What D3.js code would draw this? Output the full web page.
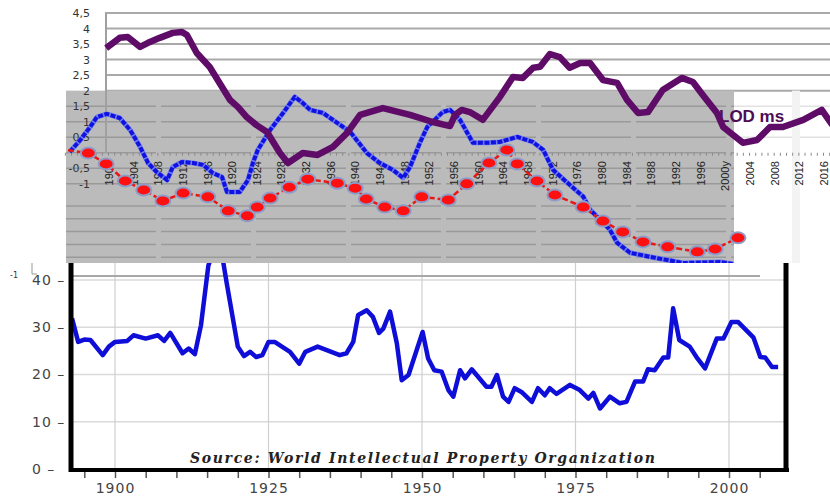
<!DOCTYPE html>
<html>
<head>
<meta charset="utf-8">
<script src="https://d3js.org/d3.v7.min.js"></script>
<style>
  body { margin: 0; background: #fff; }
  svg { display: block; }
  .ytop text { font: 11px "DejaVu Sans", sans-serif; fill: #333; }
  .xtop text { font: 11px "Liberation Sans", Arial, sans-serif; fill: #222; }
  .ybot text, .xbot text { font: 14px "DejaVu Sans", sans-serif; fill: #444; letter-spacing: 1px; }
</style>
</head>
<body>
<script>
// ---- top chart (LOD ms collage) ----
var lodYears = [1899.7,1901.9,1903.2,1905.2,1906.5,1908.4,1910.5,1912,1912.8,1914.4,1916.5,1918.5,1919.8,1921.1,1922.5,1924.1,1925.8,1927.9,1929.2,1931.6,1934,1936.5,1938.8,1940.9,1944.6,1949,1952.7,1955.5,1956.3,1957.4,1958.7,1960.8,1963.6,1965.7,1967.3,1969,1970.1,1971.7,1973.3,1974.9,1976.6,1978.2,1980.3,1982.6,1984.2,1986,1987.6,1990,1993.1,1994.9,1996.5,1998.8,1999.8,2003,2005.3,2007.4,2009.5,2012.8,2015.8,2017.5];
var lodValues = [3.37,3.70,3.73,3.41,3.54,3.70,3.86,3.89,3.79,3.21,2.76,2.12,1.70,1.47,1.15,0.89,0.67,-0.01,-0.33,-0.01,-0.07,0.19,0.64,1.22,1.44,1.22,0.99,0.86,1.22,1.38,1.31,1.06,1.80,2.44,2.41,2.74,2.77,3.18,3.08,2.74,2.89,2.89,2.34,2.25,1.70,1.28,1.31,2.02,2.41,2.28,1.86,1.28,0.83,0.32,0.41,0.83,0.83,1.06,1.38,0.90];

var blueYears = [1893.8,1895.5,1897.1,1898.2,1899.8,1901.9,1903.6,1905.2,1906.5,1907.9,1909.6,1910.5,1912,1913.8,1915.4,1917,1918.5,1919.3,1921.4,1922.7,1923.5,1924.3,1926.3,1928.4,1930.3,1931.6,1932.8,1934.9,1937.2,1939.3,1942,1944.1,1946.2,1947.9,1949,1950.6,1951.8,1954.3,1955.5,1957.1,1959.2,1961.5,1963.6,1966.4,1968.9,1970.6,1972.2,1974.5,1977.1,1978.2,1981.4,1982.6,1984.7,1987.9,1993.3,1999.3,2001.4];
var blueValues = [0.03,0.41,0.83,1.15,1.25,1.12,0.73,0.19,-0.33,-0.62,-0.88,-0.46,-0.30,-0.33,-0.39,-0.65,-0.78,-1.26,-1.26,-0.88,-0.33,0.09,0.73,1.28,1.80,1.60,1.38,1.28,0.96,0.67,-0.01,-0.33,-0.55,-0.81,-0.46,0.32,0.83,1.31,1.38,1.06,0.32,0.32,0.35,0.51,0.35,0.09,-0.55,-0.96,-1.41,-1.83,-2.47,-2.90,-3.22,-3.35,-3.55,-3.52,-3.58];

var redYears = [1893.5,1896.8,1899.7,1902.8,1905.8,1908.9,1912.2,1916.2,1919.5,1922.6,1924.2,1926.3,1929.4,1932.4,1937.2,1940.1,1941.9,1944.9,1947.9,1950.9,1955.2,1958.2,1961.8,1964.7,1966.4,1969.6,1972.5,1977.1,1980.3,1983.5,1986.8,1990.8,1995.6,1998.5,2002.2];
var redValues = [0.08,-0.01,-0.36,-0.91,-1.20,-1.55,-1.30,-1.42,-1.87,-2.03,-1.75,-1.46,-1.11,-0.85,-0.98,-1.14,-1.49,-1.75,-1.87,-1.42,-1.52,-1.00,-0.33,0.09,-0.36,-0.91,-1.36,-1.75,-2.20,-2.55,-2.87,-3.03,-3.19,-3.10,-2.74];

var topYTicks = [4.5,4,3.5,3,2.5,2,1.5,1,0.5,0,-0.5,-1];
var topXLabels = d3.range(1900, 2017, 4);

// ---- bottom chart (patents, WIPO) ----
var patentYears = [1893,1894,1895,1896,1898,1899,1900,1902,1903,1905,1907,1908,1909,1911,1912,1913,1914,1915.2,1916.5,1917.6,1918.2,1920,1921,1922,1923,1924,1925,1926,1928.5,1930,1931,1933,1936.6,1937.7,1938.8,1939.6,1941,1942,1943,1943.7,1944.8,1945.9,1946.7,1947.8,1950.1,1951,1952,1953.2,1954.3,1955.1,1956.2,1957,1958.1,1960.5,1961.3,1962.2,1963.2,1964.1,1965.1,1966.2,1967.9,1968.9,1970,1970.8,1971.9,1974.1,1975.7,1977.1,1977.9,1979,1980.6,1982.2,1983.3,1984.7,1986,1986.8,1987.9,1989.3,1990.1,1990.9,1991.9,1993.6,1994.7,1996.1,1998,1999.1,2000.4,2001.5,2004,2005.1,2005.9,2007,2008];
var patentValues = [31.9,26.9,27.4,27.3,24.1,25.9,26.9,27.1,28.3,27.6,28.3,27.1,28.8,24.5,25.5,24.3,30.4,43,48,44,39.3,25.9,23.9,24.8,23.7,24.1,26.9,26.9,24.8,22.3,24.8,25.9,24.1,24.5,26.9,32.6,33.6,32.2,28.8,29.7,33.3,26.6,18.8,19.9,29,23.4,20.9,20.6,16.7,15.3,20.9,19.2,21.1,17.4,17.4,19.9,15.3,14.2,17.1,16.3,14.2,17.1,15.6,17.1,15.9,17.8,16.7,14.9,16.1,12.8,15.3,13.9,14.2,18.5,18.5,21.1,20.9,23.6,23.6,34.0,27.3,25.9,23.7,21.3,27.6,27.6,31.1,31.1,27.8,23.7,23.6,21.6,21.6];
var botYTicks = [0,10,20,30,40];
var botXTicks = [1900,1925,1950,1975,2000];

var width = 830, height = 496;

var svg = d3.select("body").append("svg")
  .attr("width", width)
  .attr("height", height);

svg.append("rect").attr("width", width).attr("height", height).attr("fill", "#fff");

var xTop = d3.scaleLinear().domain([1900, 2016]).range([108, 823]);
var yTop = d3.scaleLinear().domain([4.5, -3.55]).range([13, 263]);

// gridlines of the white upper part
svg.selectAll(".gridw")
  .data([4.5, 4, 3.5, 3, 2.5, 2])
  .enter().append("line")
  .attr("x1", 105).attr("x2", width)
  .attr("y1", function(d) { return yTop(d); })
  .attr("y2", function(d) { return yTop(d); })
  .attr("stroke", "#a9a9a9")
  .attr("stroke-width", 2);

// grey panel
svg.append("rect")
  .attr("x", 66).attr("y", yTop(2))
  .attr("width", 734 - 66).attr("height", 263 - yTop(2))
  .attr("fill", "#bbbbbb");

var greyLines = [1.5, 1, 0.5, 0, -0.5, -1].map(yTop).concat(d3.range(206, 262, 12.8));
svg.selectAll(".gridg")
  .data(greyLines)
  .enter().append("line")
  .attr("x1", 66).attr("x2", 734)
  .attr("y1", function(d) { return d; })
  .attr("y2", function(d) { return d; })
  .attr("stroke", "#9a9a9a")
  .attr("stroke-width", 1.5)
  .attr("stroke-dasharray", "90 5");

// faint lines on the white right part
svg.selectAll(".gridr")
  .data([1.5, 0.5])
  .enter().append("line")
  .attr("x1", 734).attr("x2", width)
  .attr("y1", function(d) { return yTop(d); })
  .attr("y2", function(d) { return yTop(d); })
  .attr("stroke", "#e2e2e2")
  .attr("stroke-width", 1.5);

svg.append("rect")
  .attr("x", 792).attr("y", yTop(2))
  .attr("width", 8).attr("height", 263 - yTop(2))
  .attr("fill", "#f3f3f3");

// vertical axis line
svg.append("line")
  .attr("x1", 106).attr("x2", 106)
  .attr("y1", yTop(4.5)).attr("y2", yTop(0))
  .attr("stroke", "#a0a0a0")
  .attr("stroke-width", 2);

// year ticks
var tickAx = svg.append("g")
  .attr("transform", "translate(0," + yTop(0) + ")")
  .call(d3.axisBottom(xTop).tickValues(d3.range(1893, 2018)).tickSize(3).tickFormat(""));
tickAx.select(".domain").remove();
tickAx.selectAll("line").attr("stroke", "#8a8a8a");

// y labels
var yAx = svg.append("g")
  .attr("class", "ytop")
  .attr("transform", "translate(90,0)")
  .call(d3.axisLeft(yTop).tickValues(topYTicks).tickSize(0).tickPadding(0)
    .tickFormat(function(d) { return String(d).replace(".", ","); }));
yAx.select(".domain").remove();

// rotated x labels
var xAx = svg.append("g")
  .attr("class", "xtop")
  .attr("transform", "translate(0,161)")
  .call(d3.axisBottom(xTop).tickValues(topXLabels).tickSize(0)
    .tickFormat(function(d) { return d === 2000 ? "2000y" : String(d); }));
xAx.select(".domain").remove();
xAx.selectAll("text")
  .attr("x", 0).attr("y", 0).attr("dy", "0.4em")
  .attr("transform", "rotate(-90)")
  .style("text-anchor", "end");

svg.append("text")
  .attr("x", 719).attr("y", 122)
  .attr("font-family", "Liberation Sans, Arial, sans-serif")
  .attr("font-weight", "bold")
  .attr("font-size", 17)
  .attr("fill", "#4d0c55")
  .text("LOD ms");

var lineTop = d3.line()
  .x(function(d) { return xTop(d[0]); })
  .y(function(d) { return yTop(d[1]); });

var blueData = d3.zip(blueYears, blueValues);
svg.append("path")
  .attr("d", lineTop(blueData))
  .attr("fill", "none")
  .attr("stroke", "#6f7ef2")
  .attr("stroke-width", 5)
  .attr("stroke-linejoin", "round");
svg.append("path")
  .attr("d", lineTop(blueData))
  .attr("fill", "none")
  .attr("stroke", "#1212e0")
  .attr("stroke-width", 4)
  .attr("stroke-dasharray", "5 1.5")
  .attr("stroke-linejoin", "round");

var redData = d3.zip(redYears, redValues);
svg.append("path")
  .attr("d", lineTop(redData))
  .attr("fill", "none")
  .attr("stroke", "#e81818")
  .attr("stroke-width", 2.5)
  .attr("stroke-dasharray", "6 3");

svg.selectAll(".dot")
  .data(redData.slice(1))
  .enter().append("ellipse")
  .attr("cx", function(d) { return xTop(d[0]); })
  .attr("cy", function(d) { return yTop(d[1]); })
  .attr("rx", 7.5).attr("ry", 5.5)
  .attr("fill", "#ff1010")
  .attr("stroke", "#8d9bc9")
  .attr("stroke-width", 2);

svg.append("path")
  .attr("d", lineTop(d3.zip(lodYears, lodValues)))
  .attr("fill", "none")
  .attr("stroke", "#5f0c68")
  .attr("stroke-width", 6.5)
  .attr("stroke-linejoin", "round");

// ---- bottom chart ----
svg.append("rect")
  .attr("x", 0).attr("y", 263)
  .attr("width", width).attr("height", height - 263)
  .attr("fill", "#fff");

var xBot = d3.scaleLinear().domain([1900, 2000]).range([115, 729]);
var yBot = d3.scaleLinear().domain([0, 40]).range([469, 280]);

svg.selectAll(".hgrid")
  .data(botYTicks.slice(1))
  .enter().append("line")
  .attr("x1", 71).attr("x2", 786)
  .attr("y1", function(d) { return yBot(d); })
  .attr("y2", function(d) { return yBot(d); })
  .attr("stroke", "#dadada")
  .attr("stroke-width", 1.5);

svg.selectAll(".vgrid")
  .data(botXTicks)
  .enter().append("line")
  .attr("x1", function(d) { return xBot(d); })
  .attr("x2", function(d) { return xBot(d); })
  .attr("y1", 263).attr("y2", 469)
  .attr("stroke", "#cfcfcf")
  .attr("stroke-width", 1.2);

svg.append("line")
  .attr("x1", 70).attr("x2", 760)
  .attr("y1", 276).attr("y2", 276)
  .attr("stroke", "#a8a8a8")
  .attr("stroke-width", 2);

// remnant of the upper chart's axis
svg.append("path")
  .attr("d", "M32,263V274H37")
  .attr("fill", "none")
  .attr("stroke", "#999");
svg.append("text")
  .attr("x", 10).attr("y", 278)
  .attr("font-family", "DejaVu Sans, sans-serif")
  .attr("font-size", 8)
  .attr("fill", "#333")
  .text("-1");

svg.append("clipPath").attr("id", "botclip")
  .append("rect").attr("x", 71).attr("y", 263).attr("width", 715).attr("height", 206);

var lineBot = d3.line()
  .x(function(d) { return xBot(d[0]); })
  .y(function(d) { return yBot(d[1]); });

svg.append("path")
  .attr("clip-path", "url(#botclip)")
  .attr("d", lineBot(d3.zip(patentYears, patentValues)))
  .attr("fill", "none")
  .attr("stroke", "#0e0ed8")
  .attr("stroke-width", 4.5)
  .attr("stroke-linejoin", "round");

svg.append("text")
  .attr("x", 190).attr("y", 463)
  .attr("font-family", "DejaVu Serif, serif")
  .attr("font-weight", "bold")
  .attr("font-style", "italic")
  .attr("font-size", 14)
  .attr("fill", "#222")
  .attr("textLength", 465)
  .text("Source: World Intellectual Property Organization");

// minor ticks
var minorAx = svg.append("g")
  .attr("transform", "translate(0,471)")
  .call(d3.axisBottom(xBot).tickValues(d3.range(1895, 2010, 5)).tickSize(7).tickFormat(""));
minorAx.select(".domain").remove();
minorAx.selectAll("line").attr("stroke", "#555").attr("stroke-width", 1.5);

var xbAx = svg.append("g")
  .attr("class", "xbot")
  .attr("transform", "translate(0,470)")
  .call(d3.axisBottom(xBot).tickValues(botXTicks).tickSize(0).tickPadding(13)
    .tickFormat(d3.format("d")));
xbAx.select(".domain").remove();

var ybAx = svg.append("g")
  .attr("class", "ybot")
  .attr("transform", "translate(32,0)")
  .call(d3.axisLeft(yBot).tickValues(botYTicks).tickSize(0)
    .tickFormat(function(d) { return d + " \u2013"; }));
ybAx.select(".domain").remove();
ybAx.selectAll("text").attr("x", 0).style("text-anchor", "start");

// frame
svg.append("line").attr("x1", 71).attr("x2", 71).attr("y1", 263).attr("y2", 472)
  .attr("stroke", "#000").attr("stroke-width", 5);
svg.append("line").attr("x1", 786).attr("x2", 786).attr("y1", 263).attr("y2", 472)
  .attr("stroke", "#000").attr("stroke-width", 5);
svg.append("line").attr("x1", 69).attr("x2", 789).attr("y1", 470).attr("y2", 470)
  .attr("stroke", "#000").attr("stroke-width", 4);
</script>
</body>
</html>
